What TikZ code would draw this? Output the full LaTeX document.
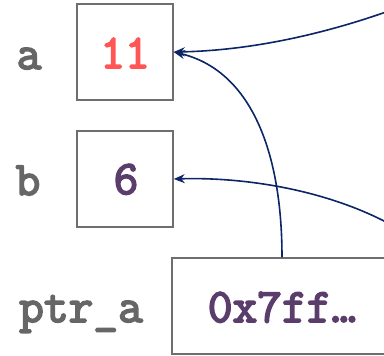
\documentclass[tikz,border=0pt]{standalone}
\usepackage{fontspec}
\setmonofont[AutoFakeBold=3.6]{Latin Modern Mono}
\usetikzlibrary{arrows.meta}
\definecolor{labelgray}{HTML}{666666}
\definecolor{boxgray}{HTML}{6E6E6E}
\definecolor{valred}{HTML}{FF5555}
\definecolor{valpurple}{HTML}{5A3D6A}
\definecolor{ptrblue}{HTML}{0B2566}
\tikzset{
  cell/.style={draw=boxgray, line width=1.5pt, fill=white, inner sep=0pt},
  varname/.style={font=\fontsize{48}{48}\selectfont\ttfamily\bfseries, text=labelgray, anchor=base, inner sep=0pt},
  value/.style={font=\fontsize{48}{48}\selectfont\ttfamily\bfseries, anchor=base, inner sep=0pt},
  ref/.style={draw=ptrblue, line width=1.6pt, -{Stealth[length=11pt,width=9pt]}}
}
\begin{document}
\begin{tikzpicture}[x=1pt,y=-1pt]
  \useasboundingbox (0,0) rectangle (384,356);
  \clip (0,0) rectangle (384,356);
  % memory cells
  \node[cell, minimum width=96pt, minimum height=96pt] (a) at (125,52) {};
  \node[cell, minimum width=96pt, minimum height=96pt] (b) at (125,179) {};
  \node[cell, minimum width=220pt, minimum height=96pt] (p) at (282,306) {};
  % variable names
  \node[varname] (na) at (29,69) {a};
  \node[varname] (nb) at (28,195) {b};
  \node[varname] (np) at (81,322) {ptr\_a};
  % stored values
  \node[value, text=valred] (va) at (125,68) {11};
  \node[value, text=valpurple] (vb) at (126,194) {6};
  \node[value, text=valpurple] (vp) at (282,322) {0x7ff…};
  % references
  \coordinate (ta) at (386,12);
  \coordinate (tb) at (386,222);
  \draw[ref] (ta) .. controls (300,42) and (230,51) .. (a.east);
  \draw[ref] (p.north -| vp) .. controls (282,150) and (250,70) .. (a.east);
  \draw[ref] (tb) .. controls (320,188) and (240,177) .. (b.east);
\end{tikzpicture}
\end{document}
